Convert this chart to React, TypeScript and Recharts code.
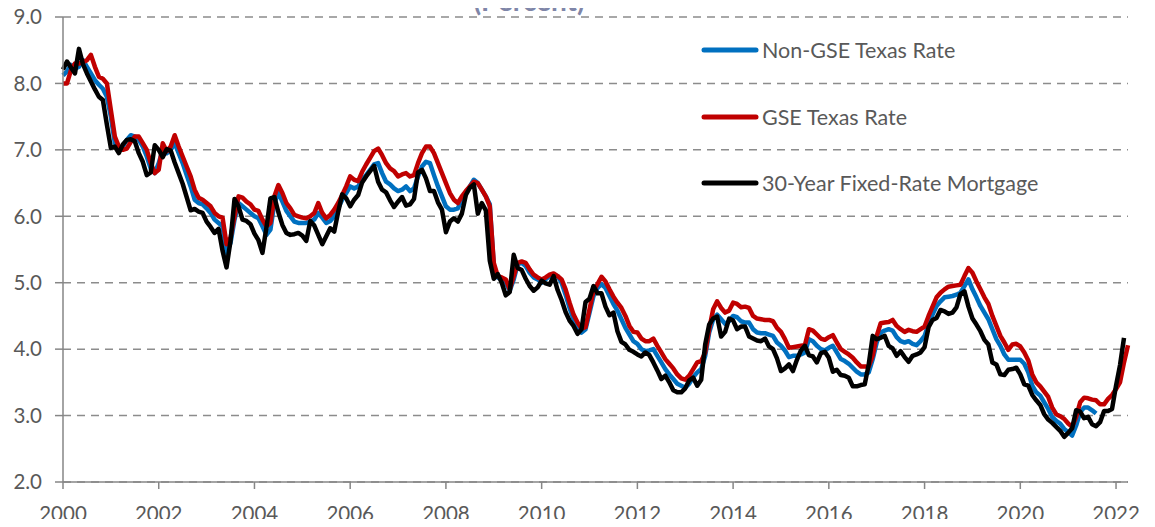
import { LineChart, Line, XAxis, YAxis, CartesianGrid } from 'recharts';

// monthly observations starting January 2000
const START_YEAR = 2000;
const YEAR_TICKS = [2000, 2002, 2004, 2006, 2008, 2010, 2012, 2014, 2016, 2018, 2020, 2022];
const RATE_TICKS = [2, 3, 4, 5, 6, 7, 8, 9];

const fixed30 = [
  8.21, 8.33, 8.24, 8.15, 8.52, 8.29, 8.15, 8.03, 7.91, 7.8, 7.75, 7.38, // 2000
  7.03, 7.05, 6.95, 7.08, 7.15, 7.16, 7.13, 6.95, 6.82, 6.62, 6.66, 7.07, // 2001
  7.0, 6.89, 7.01, 6.99, 6.81, 6.65, 6.49, 6.29, 6.09, 6.11, 6.07, 6.05, // 2002
  5.92, 5.84, 5.75, 5.81, 5.48, 5.23, 5.63, 6.26, 6.15, 5.95, 5.93, 5.88, // 2003
  5.74, 5.64, 5.45, 5.83, 6.27, 6.29, 6.06, 5.87, 5.75, 5.72, 5.73, 5.75, // 2004
  5.71, 5.63, 5.93, 5.86, 5.72, 5.58, 5.7, 5.82, 5.77, 6.07, 6.33, 6.27, // 2005
  6.15, 6.25, 6.32, 6.51, 6.6, 6.68, 6.76, 6.52, 6.4, 6.36, 6.24, 6.14, // 2006
  6.22, 6.29, 6.16, 6.18, 6.26, 6.66, 6.7, 6.57, 6.38, 6.38, 6.21, 6.1, // 2007
  5.76, 5.92, 5.97, 5.92, 6.04, 6.32, 6.43, 6.48, 6.04, 6.2, 6.09, 5.33, // 2008
  5.06, 5.13, 5.0, 4.81, 4.86, 5.42, 5.22, 5.19, 5.06, 4.95, 4.88, 4.93, // 2009
  5.03, 4.99, 4.97, 5.1, 4.89, 4.74, 4.56, 4.43, 4.35, 4.23, 4.3, 4.71, // 2010
  4.76, 4.95, 4.84, 4.84, 4.64, 4.51, 4.55, 4.27, 4.11, 4.07, 3.99, 3.96, // 2011
  3.92, 3.89, 3.95, 3.91, 3.8, 3.68, 3.55, 3.6, 3.5, 3.38, 3.35, 3.35, // 2012
  3.41, 3.53, 3.57, 3.45, 3.54, 4.07, 4.37, 4.46, 4.49, 4.19, 4.26, 4.46, // 2013
  4.43, 4.3, 4.34, 4.34, 4.19, 4.16, 4.13, 4.12, 4.16, 4.04, 4.0, 3.86, // 2014
  3.67, 3.71, 3.77, 3.67, 3.84, 3.98, 4.05, 3.91, 3.89, 3.8, 3.94, 3.96, // 2015
  3.87, 3.66, 3.69, 3.61, 3.6, 3.57, 3.44, 3.44, 3.46, 3.47, 3.77, 4.2, // 2016
  4.15, 4.17, 4.2, 4.05, 4.01, 3.9, 3.97, 3.88, 3.81, 3.9, 3.92, 3.95, // 2017
  4.03, 4.33, 4.44, 4.47, 4.59, 4.57, 4.53, 4.55, 4.63, 4.83, 4.87, 4.64, // 2018
  4.46, 4.37, 4.27, 4.14, 4.07, 3.8, 3.77, 3.62, 3.61, 3.69, 3.7, 3.72, // 2019
  3.62, 3.47, 3.45, 3.31, 3.23, 3.16, 3.02, 2.94, 2.89, 2.83, 2.77, 2.68, // 2020
  2.74, 2.81, 3.08, 3.06, 2.96, 2.98, 2.87, 2.84, 2.9, 3.07, 3.07, 3.1, // 2021
  3.45, 3.76, 4.17, // 2022
];

const gseTexas = [
  8.0, 8.0, 8.2, 8.3, 8.3, 8.32, 8.35, 8.43, 8.25, 8.1, 8.07, 8.0,
  7.6, 7.2, 7.05, 7.0, 7.02, 7.12, 7.2, 7.2, 7.1, 7.0, 6.8, 6.65,
  6.7, 7.1, 6.98, 7.05, 7.22, 7.05, 6.9, 6.75, 6.6, 6.4, 6.28, 6.25,
  6.2, 6.15, 6.05, 6.0, 5.98, 5.58, 5.68, 6.0, 6.3, 6.28, 6.22, 6.18,
  6.1, 6.08, 5.95, 5.85, 5.9, 6.3, 6.47, 6.35, 6.2, 6.12, 6.02, 6.0,
  5.98, 5.97, 6.0, 6.05, 6.2, 6.05, 5.97, 6.02, 6.1, 6.2, 6.32, 6.45,
  6.6, 6.55, 6.53, 6.67, 6.78, 6.88, 6.98, 7.02, 6.92, 6.8, 6.72, 6.68,
  6.6, 6.63, 6.65, 6.6, 6.62, 6.8, 6.95, 7.05, 7.05, 6.95, 6.8, 6.65,
  6.5, 6.35, 6.25, 6.2, 6.3, 6.38, 6.45, 6.52, 6.5, 6.4, 6.3, 6.15,
  5.3, 5.1, 5.08, 5.05, 4.9, 5.1, 5.3, 5.32, 5.3, 5.2, 5.12, 5.08,
  5.05, 5.08, 5.12, 5.14, 5.1, 5.05, 4.9, 4.7, 4.52, 4.4, 4.31, 4.33,
  4.6, 4.88, 4.98, 5.09, 5.02, 4.9, 4.79, 4.7, 4.62, 4.5, 4.35, 4.26,
  4.25, 4.16, 4.12, 4.12, 4.16, 4.05, 3.95, 3.85, 3.78, 3.71, 3.62, 3.56,
  3.54, 3.6, 3.7, 3.8, 3.82, 3.95, 4.3, 4.6, 4.72, 4.62, 4.55, 4.58,
  4.7, 4.68, 4.63, 4.64, 4.62, 4.5, 4.46, 4.45, 4.44, 4.44, 4.42, 4.32,
  4.26, 4.15, 4.02, 4.03, 4.04, 4.05, 4.06, 4.3, 4.28, 4.22, 4.16, 4.14,
  4.18, 4.21, 4.1, 4.0, 3.96, 3.92, 3.87, 3.8, 3.74, 3.74, 3.74, 3.9,
  4.2, 4.39, 4.4, 4.41, 4.44, 4.35, 4.3, 4.26, 4.29, 4.27, 4.26, 4.3,
  4.34, 4.5, 4.64, 4.78, 4.85, 4.9, 4.94, 4.95, 4.96, 4.97, 5.1, 5.22,
  5.15, 5.02, 4.9, 4.78, 4.68, 4.5, 4.35, 4.2, 4.1, 3.99, 4.07, 4.08,
  4.04, 3.95, 3.83, 3.62, 3.5, 3.44, 3.36, 3.28, 3.12, 3.02, 2.99, 2.95,
  2.88, 2.83, 2.98, 3.2, 3.27, 3.26, 3.24, 3.23, 3.17, 3.17, 3.25, 3.31,
  3.4, 3.5, 3.8, 4.06,
];

const nonGseTexas = [
  8.12, 8.18, 8.28, 8.22, 8.25, 8.35, 8.25, 8.15, 8.05, 7.98, 7.92, 7.8,
  7.5, 7.1, 7.02, 7.05, 7.15, 7.22, 7.2, 7.15, 7.05, 6.9, 6.72, 6.65,
  6.8, 7.0, 6.95, 7.0, 7.1, 6.95, 6.8, 6.62, 6.45, 6.25, 6.2, 6.18,
  6.12, 6.05, 5.95, 5.9, 5.85, 5.45, 5.6, 5.95, 6.2, 6.15, 6.1, 6.05,
  6.0, 5.97, 5.85, 5.72, 5.8, 6.2, 6.35, 6.22, 6.08, 6.0, 5.92, 5.9,
  5.9, 5.9, 5.92, 5.95, 6.05, 5.98, 5.9, 5.93, 6.0, 6.12, 6.25, 6.35,
  6.45, 6.42, 6.45, 6.55, 6.62, 6.7, 6.78, 6.8, 6.65, 6.52, 6.48, 6.42,
  6.38, 6.4, 6.45, 6.38, 6.42, 6.6, 6.75, 6.82, 6.8, 6.62, 6.45, 6.3,
  6.15, 6.1, 6.1, 6.12, 6.25, 6.35, 6.45, 6.55, 6.5, 6.4, 6.3, 6.18,
  5.25, 5.08, 5.05, 5.0, 4.88, 5.05, 5.28, 5.3, 5.25, 5.15, 5.08, 5.05,
  5.0, 5.05, 5.1, 5.12, 5.1, 5.0, 4.82, 4.62, 4.45, 4.35, 4.25, 4.3,
  4.55, 4.8, 4.92, 4.98, 4.92, 4.8, 4.68, 4.58, 4.45, 4.32, 4.22, 4.12,
  4.08, 4.0, 3.97, 3.98, 4.0, 3.9, 3.8, 3.7, 3.62, 3.55, 3.48, 3.45,
  3.42, 3.48, 3.58, 3.65, 3.7, 3.9, 4.25, 4.45, 4.52, 4.45, 4.38, 4.42,
  4.5, 4.48, 4.42, 4.4, 4.4, 4.3, 4.25, 4.24, 4.24, 4.22, 4.2, 4.1,
  4.05, 3.98, 3.88, 3.9, 3.9, 3.92, 3.95, 4.15, 4.12, 4.05, 4.0, 3.98,
  4.02, 4.05, 3.95, 3.85, 3.82, 3.78, 3.72, 3.66, 3.62, 3.62, 3.65, 3.85,
  4.1, 4.25, 4.28, 4.3, 4.28, 4.18, 4.12, 4.1, 4.12, 4.08, 4.06, 4.12,
  4.2, 4.38, 4.52, 4.65, 4.72, 4.78, 4.79, 4.8, 4.82, 4.85, 4.95, 5.05,
  4.9, 4.78, 4.65, 4.55, 4.45, 4.3, 4.15, 4.05, 3.92, 3.84, 3.84, 3.84,
  3.84, 3.78, 3.65, 3.45, 3.35, 3.3, 3.2, 3.1, 2.98, 2.92, 2.88, 2.8,
  2.75, 2.7, 2.85, 3.05, 3.12, 3.12, 3.08, 3.03,
];

const SERIES = [
  { key: 'nonGse', name: 'Non-GSE Texas Rate', color: '#0070C0' },
  { key: 'gse', name: 'GSE Texas Rate', color: '#C00000' },
  { key: 'fixed30', name: '30-Year Fixed-Rate Mortgage', color: '#000000' },
];

const chartData = gseTexas.map((g, i) => ({
  t: START_YEAR + i / 12,
  gse: g,
  nonGse: nonGseTexas[i] ?? null,
  fixed30: fixed30[i] ?? null,
}));

const FONT = 'Lato, "Open Sans", sans-serif';
const AXIS_COLOR = '#868686';
const TEXT_COLOR = '#595959';

function ChartLegend() {
  return (
    <>
      {SERIES.map((s, i) => (
        <div
          key={s.key}
          style={{
            position: 'absolute',
            left: 700,
            top: 50 + i * 66.5 - 14,
            height: 28,
            display: 'flex',
            alignItems: 'center',
            fontFamily: FONT,
            fontSize: 21.5,
            color: TEXT_COLOR,
            whiteSpace: 'nowrap',
          }}
        >
          <svg width={60} height={10} style={{ marginRight: 2 }}>
            <line x1={4} y1={5} x2={56} y2={5} stroke={s.color} strokeWidth={5} strokeLinecap="round" />
          </svg>
          <span>{s.name}</span>
        </div>
      ))}
    </>
  );
}

export default function App() {
  // negative margin cancels the body's default 8px margin so the chart fills the window
  return (
    <div style={{ position: 'relative', width: 1155, height: 527, margin: -8, overflow: 'hidden' }}>
      <LineChart
        width={1155}
        height={527}
        data={chartData}
        margin={{ top: 17, right: 27, bottom: 7, left: 0 }}
      >
        <CartesianGrid vertical={false} stroke="#8c8c8c" strokeWidth={1.5} strokeDasharray="8 6" />
        <XAxis
          type="number"
          dataKey="t"
          domain={[2000, 2022.25]}
          ticks={YEAR_TICKS}
          interval={0}
          height={38}
          tickSize={7}
          tickMargin={17}
          axisLine={{ stroke: AXIS_COLOR, strokeWidth: 1.5 }}
          tickLine={{ stroke: AXIS_COLOR, strokeWidth: 1.5 }}
          tick={{ fill: TEXT_COLOR, fontSize: 20.5, fontFamily: FONT }}
        />
        <YAxis
          type="number"
          domain={[2, 9]}
          ticks={RATE_TICKS}
          interval={0}
          width={63}
          tickSize={8}
          tickMargin={13}
          tickFormatter={(v: number) => v.toFixed(1)}
          axisLine={{ stroke: AXIS_COLOR, strokeWidth: 1.5 }}
          tickLine={{ stroke: AXIS_COLOR, strokeWidth: 1.5 }}
          tick={{ fill: TEXT_COLOR, fontSize: 20.5, fontFamily: FONT }}
        />
        {SERIES.map((s) => (
          <Line
            key={s.key}
            type="linear"
            dataKey={s.key}
            name={s.name}
            stroke={s.color}
            strokeWidth={4.5}
            strokeLinejoin="round"
            dot={false}
            activeDot={false}
            connectNulls={false}
            isAnimationActive={false}
          />
        ))}
      </LineChart>
      <ChartLegend />
      <div
        style={{
          position: 'absolute',
          top: -14,
          left: 379,
          width: 300,
          textAlign: 'center',
          fontFamily: FONT,
          fontWeight: 700,
          fontSize: 28,
          lineHeight: 1,
          color: '#7F86A8',
          zIndex: 2,
        }}
      >
        (Percent)
      </div>
    </div>
  );
}
